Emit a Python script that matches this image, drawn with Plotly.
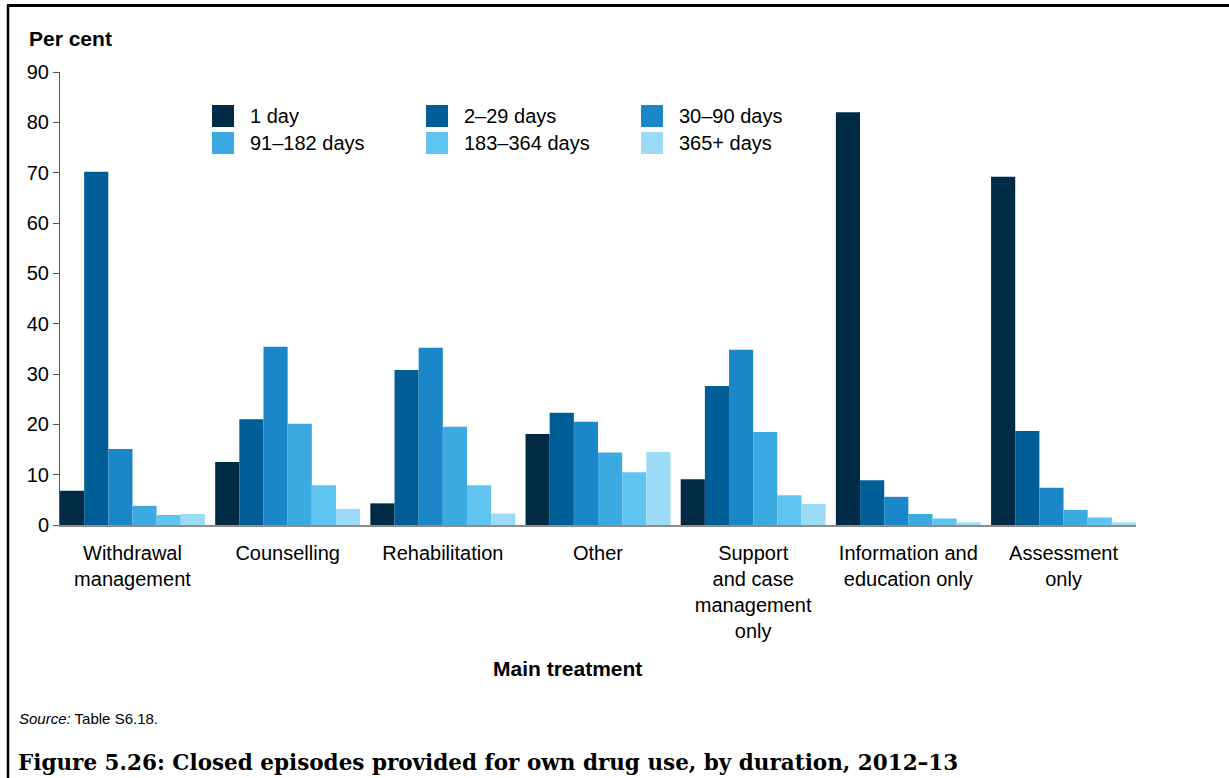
import plotly.graph_objects as go

# ---------------- data ----------------
categories = ["Withdrawal management", "Counselling", "Rehabilitation", "Other",
              "Support and case management only", "Information and education only",
              "Assessment only"]
tick_labels = ["Withdrawal<br>management", "Counselling", "Rehabilitation", "Other",
               "Support<br>and case<br>management<br>only", "Information and<br>education only",
               "Assessment<br>only"]
series_names = ["1 day", "2\u201329 days", "30\u201390 days",
                "91\u2013182 days", "183\u2013364 days", "365+ days"]
one_day = [6.8, 12.5, 4.3, 18.1, 9.1, 82.0, 69.2]
d2_29 = [70.2, 21.0, 30.8, 22.3, 27.6, 8.9, 18.7]
d30_90 = [15.1, 35.4, 35.2, 20.5, 34.8, 5.6, 7.4]
d91_182 = [3.8, 20.1, 19.5, 14.4, 18.5, 2.2, 3.0]
d183_364 = [2.0, 7.9, 7.9, 10.5, 5.9, 1.3, 1.5]
d365 = [2.2, 3.2, 2.3, 14.5, 4.2, 0.5, 0.5]
series_values = [one_day, d2_29, d30_90, d91_182, d183_364, d365]
y_ticks = [0, 10, 20, 30, 40, 50, 60, 70, 80, 90]

# ---------------- styles ----------------
colors = ["#002B47", "#005E96", "#1B87C9", "#3AAAE0", "#5FC4F0", "#9CDBF7"]
FONT = "Liberation Sans, Arial, sans-serif"
W, H = 1229, 778
L, R, T, B = 60, 93, 72, 253
PW, PH = W - L - R, H - T - B


def px_x(px):
    return (px - L) / PW


def px_y(py):
    return (H - B - py) / PH


fig = go.Figure()
for name, vals, col in zip(series_names, series_values, colors):
    fig.add_trace(go.Bar(x=categories, y=vals, name=name, marker_color=col,
                         marker_line_width=0, showlegend=False))

fig.update_layout(
    width=W, height=H,
    margin=dict(l=L, r=R, t=T, b=B, pad=0),
    paper_bgcolor="white", plot_bgcolor="white",
    barmode="group", bargap=0.066, bargroupgap=0,
    font=dict(family=FONT, size=20, color="black"),
)
fig.update_xaxes(
    type="category", range=[-0.467, 6.467],
    tickmode="array", tickvals=categories, ticktext=tick_labels,
    showline=True, linecolor="#8c8c8c", linewidth=2,
    ticks="", showgrid=False, zeroline=False, ticklabelstandoff=9,
    tickfont=dict(family=FONT, size=20, color="black"),
)
fig.update_yaxes(
    range=[0, 90], tickvals=y_ticks,
    showline=True, linecolor="#555555", linewidth=1,
    ticks="outside", ticklen=6, tickcolor="#555555", tickwidth=1,
    showgrid=False, zeroline=False,
    tickfont=dict(family=FONT, size=20, color="black"),
)

# manual legend (3 columns x 2 rows)
col_x = [212, 426, 641]
row_y = [116, 143]
shapes = []
annotations = []
for i, (name, col) in enumerate(zip(series_names, colors)):
    cx = col_x[i % 3]
    cy = row_y[i // 3]
    shapes.append(dict(type="rect", xref="paper", yref="paper",
                       x0=px_x(cx), x1=px_x(cx + 22), y0=px_y(cy + 11), y1=px_y(cy - 11),
                       fillcolor=col, line=dict(width=0)))
    annotations.append(dict(xref="paper", yref="paper", x=px_x(cx + 36), y=px_y(cy),
                            xanchor="left", yanchor="middle", text=name, showarrow=False,
                            font=dict(family=FONT, size=20, color="black")))

# border (left + top lines)
shapes.append(dict(type="line", xref="paper", yref="paper",
                   x0=px_x(8), x1=px_x(8), y0=px_y(5), y1=px_y(790),
                   line=dict(color="black", width=2.5)))
shapes.append(dict(type="line", xref="paper", yref="paper",
                   x0=px_x(7), x1=px_x(1240), y0=px_y(5.5), y1=px_y(5.5),
                   line=dict(color="black", width=3)))

annotations += [
    dict(xref="paper", yref="paper", x=px_x(27), y=px_y(38), xanchor="left", yanchor="middle",
         text="<b>Per cent</b>", showarrow=False, font=dict(family=FONT, size=21, color="black")),
    dict(xref="paper", yref="paper", x=px_x(567), y=px_y(668), xanchor="center", yanchor="middle",
         text="<b>Main treatment</b>", showarrow=False, font=dict(family=FONT, size=21, color="black")),
    dict(xref="paper", yref="paper", x=px_x(17), y=px_y(718), xanchor="left", yanchor="middle",
         text="<i>Source:</i> Table S6.18.", showarrow=False, font=dict(family=FONT, size=15, color="black")),
    dict(xref="paper", yref="paper", x=px_x(16), y=px_y(762), xanchor="left", yanchor="middle",
         text="<b>Figure 5.26: Closed episodes provided for own drug use, by duration, 2012\u201313</b>",
         showarrow=False, font=dict(family="DejaVu Serif, serif", size=21.5, color="black")),
]
fig.update_layout(shapes=shapes, annotations=annotations)

fig.write_html("out.html", config={"displayModeBar": False},
               post_script="document.body.style.margin='0';document.body.style.overflow='hidden';")
